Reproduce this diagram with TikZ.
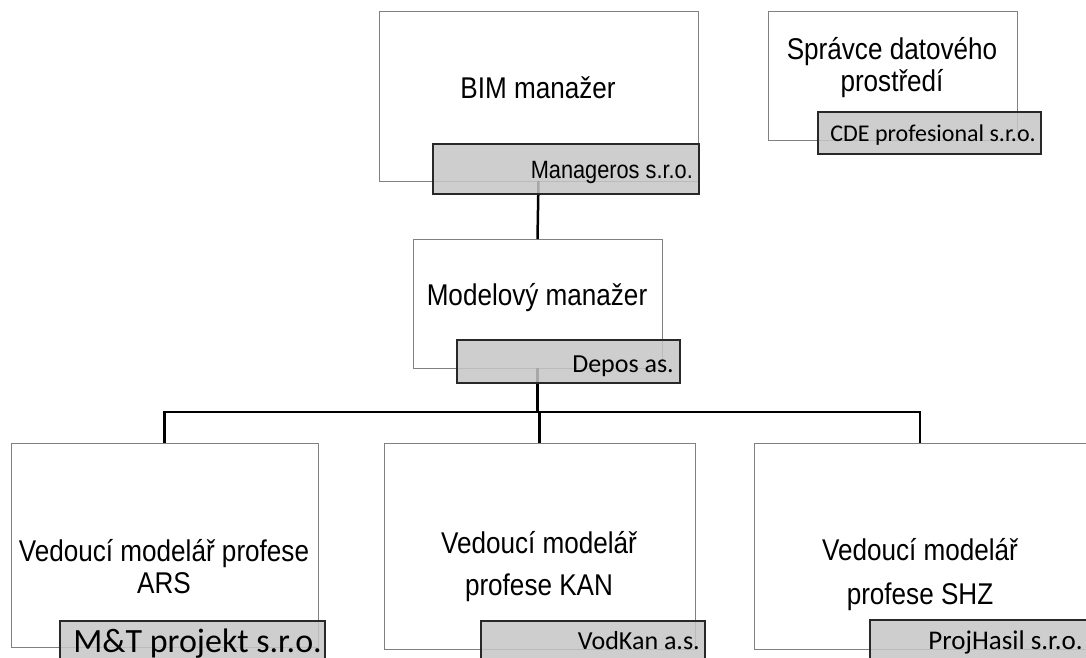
\documentclass[tikz,border=0pt]{standalone}
\usepackage{fontspec}
\setmainfont{Liberation Sans}
\newfontfamily\narrowsans[FakeStretch=0.87]{Liberation Sans}
\newfontfamily\calfont{Carlito}
\definecolor{wborder}{RGB}{128,128,128}
\definecolor{gfill}{RGB}{198,198,198}
\definecolor{gborder}{RGB}{40,40,40}
\tikzset{
  wbox/.style={draw=wborder, line width=1pt, fill=white, inner sep=0pt, outer sep=0pt, anchor=north west},
  gbox/.style={draw=gborder, line width=1.3pt, fill=gfill, fill opacity=0.85, draw opacity=1, inner sep=0pt, outer sep=0pt, anchor=north west},
  title/.style={inner sep=0pt, align=center, text=black},
  glabel/.style={inner sep=0pt, anchor=base east, text=black},
  conn/.style={draw=black, line width=2.5pt}
}
\begin{document}
\begin{tikzpicture}[x=1pt,y=-1pt]
\useasboundingbox (0,0) rectangle (1086,658);
\clip (0,0) rectangle (1086,658);
% white boxes
\node[wbox, minimum width=319pt, minimum height=169pt] (bim) at (379,12) {};
\node[wbox, minimum width=249pt, minimum height=128pt] (cde) at (768,12) {};
\node[wbox, minimum width=249pt, minimum height=129pt] (mm) at (413,239) {};
\node[wbox, minimum width=307pt, minimum height=204pt] (ars) at (11,443) {};
\node[wbox, minimum width=311pt, minimum height=206pt] (kan) at (384,443) {};
\node[wbox, minimum width=332pt, minimum height=206pt] (shz) at (754,443) {};
% connectors
\coordinate (bus) at (538,412);
\draw[conn] (bim.south) -- (mm.north);
\draw[conn] (mm.south) -- (mm.south |- bus);
\draw[conn] (kan.north |- bus) -- (kan.north);
\draw[conn] (ars.north) -- (ars.north |- bus) -- (shz.north |- bus) -- (shz.north);
% titles
\node[title, font=\narrowsans\fontsize{30}{31}\selectfont] (bimt) at (538,88) {BIM manažer};
\node[title, font=\narrowsans\fontsize{30}{32}\selectfont] (cdet) at (892,68) {Správce datového\\prostředí};
\node[title, font=\narrowsans\fontsize{30}{31}\selectfont] (mmt) at (537,298) {Modelový manažer};
\node[title, font=\narrowsans\fontsize{30}{32}\selectfont] (arst) at (164,567) {Vedoucí modelář profese\\ARS};
\node[title, font=\narrowsans\fontsize{30}{42}\selectfont] (kant) at (539,567) {Vedoucí modelář\\profese KAN};
\node[title, font=\narrowsans\fontsize{30}{44}\selectfont] (shzt) at (920,575) {Vedoucí modelář\\profese SHZ};
% gray company boxes
\node[gbox, minimum width=266pt, minimum height=50pt] (g1) at (433,144) {};
\node[gbox, minimum width=223pt, minimum height=42pt] (g2) at (818,112) {};
\node[gbox, minimum width=223pt, minimum height=43pt] (g3) at (457,340) {};
\node[gbox, minimum width=265pt, minimum height=50pt] (g4) at (60,621) {};
\node[gbox, minimum width=224pt, minimum height=50pt] (g5) at (481,621) {};
\node[gbox, minimum width=225pt, minimum height=50pt] (g6) at (870,620) {};
% company labels
\node[glabel, font=\narrowsans\fontsize{25}{28}\selectfont] (g1t) at (693,178) {Manageros s.r.o.};
\node[glabel, font=\calfont\fontsize{24}{28}\selectfont] (g2t) at (1036,142) {CDE profesional s.r.o.};
\node[glabel, font=\calfont\fontsize{26}{30}\selectfont] (g3t) at (674,372) {Depos as.};
\node[glabel, font=\calfont\fontsize{34}{40}\selectfont] (g4t) at (322,652) {M\&T projekt s.r.o.};
\node[glabel, font=\calfont\fontsize{26}{30}\selectfont] (g5t) at (700,649) {VodKan a.s.};
\node[glabel, font=\calfont\fontsize{27}{30}\selectfont] (g6t) at (1083,649) {ProjHasil s.r.o.};
\end{tikzpicture}
\end{document}
